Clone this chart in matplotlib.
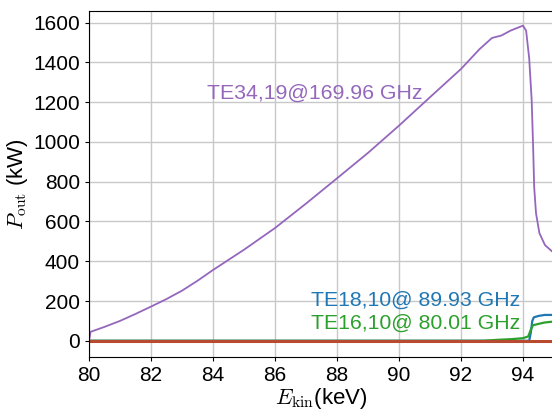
import numpy as np
import matplotlib
matplotlib.use("Agg")
import matplotlib.pyplot as plt

plt.rcParams["font.family"] = ["Liberation Sans", "DejaVu Sans"]
plt.rcParams["mathtext.fontset"] = "cm"

# TE34,19 @ 169.96 GHz (purple)
e_34 = [80.0, 80.05, 80.5, 81.0, 81.5, 82.0, 82.5, 83.0, 83.5, 84.0, 85.0, 86.0,
        87.0, 88.0, 89.0, 90.0, 91.0, 92.0, 92.6, 93.0, 93.3, 93.6, 94.0,
        94.1, 94.2, 94.28, 94.33, 94.36, 94.42, 94.53, 94.71, 94.95]
p_34 = [0, 45, 70, 100, 135, 172, 210, 252, 302, 356, 458, 567,
        690, 817, 945, 1082, 1225, 1367, 1467, 1523, 1535, 1560, 1585,
        1560, 1420, 1209, 958, 774, 641, 541, 481, 448]

# TE18,10 @ 89.93 GHz (blue)
e_18 = [80.0, 94.2, 94.25, 94.3, 94.35, 94.5, 94.7, 95.0]
p_18 = [0, 0, 40, 100, 118, 125, 130, 130]

# TE16,10 @ 80.01 GHz (green)
e_16 = [80.0, 92.7, 93.2, 93.6, 94.0, 94.17, 94.25, 94.32, 94.5, 94.7, 95.0]
p_16 = [0, 0, 5, 8, 13, 22, 55, 78, 85, 92, 97]

# other modes, flat at zero
e_0 = [80.0, 95.0]
p_0 = [0, 0]

fig = plt.figure(figsize=(5.52, 4.12), dpi=100)
ax = fig.add_axes([89 / 552, 55.5 / 412, 465 / 552, 345.8 / 412])

ax.plot(e_34, p_34, color="#9467bd", lw=1.3)
ax.plot(e_18, p_18, color="#1f77b4", lw=1.6)
ax.plot(e_16, p_16, color="#2ca02c", lw=1.6)
ax.plot(e_0, p_0, color="#b84a30", lw=2.2)

ax.text(83.8, 1244, "TE34,19@169.96 GHz", color="#9467bd", fontsize=15.3, va="center")
ax.text(87.15, 206, "TE18,10@ 89.93 GHz", color="#1f77b4", fontsize=15.3, va="center")
ax.text(87.15, 90, "TE16,10@ 80.01 GHz", color="#2ca02c", fontsize=15.3, va="center")

ax.set_xlim(80, 95)
ax.set_ylim(-79, 1660)
ax.set_xticks(np.arange(80, 95, 2))
ax.set_yticks(np.arange(0, 1601, 200))
ax.tick_params(axis="both", labelsize=15, direction="out", length=3)
ax.grid(True, color="#c8c8c8", lw=1)
ax.set_axisbelow(True)

ax.set_xlabel(r"$E_{\rm kin}$(keV)", fontsize=16, labelpad=1)
ax.set_ylabel(r"$P_{\rm out}$ (kW)", fontsize=16, labelpad=2)

fig.savefig("out.png", dpi=100)
